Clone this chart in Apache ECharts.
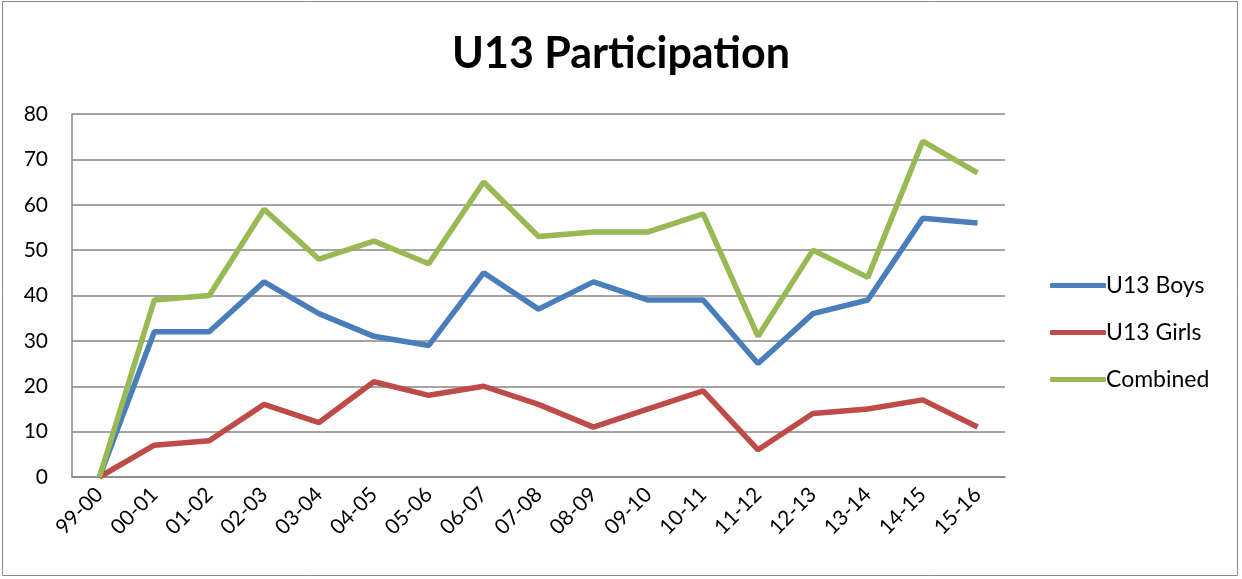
<!DOCTYPE html>
<html><head><meta charset="utf-8">
<script src="https://cdn.jsdelivr.net/npm/echarts@6/dist/echarts.min.js"></script>
<style>html,body{margin:0;padding:0;background:#fff}#c{width:1242px;height:579px}</style>
</head><body><div id="c"></div>
<script>
const categories = ['99-00','00-01','01-02','02-03','03-04','04-05','05-06','06-07','07-08','08-09','09-10','10-11','11-12','12-13','13-14','14-15','15-16'];
const boys = [0,32,32,43,36,31,29,45,37,43,39,39,25,36,39,57,56];
const girls = [0,7,8,16,12,21,18,20,16,11,15,19,6,14,15,17,11];
const combined = [0,39,40,59,48,52,47,65,53,54,54,58,31,50,44,74,67];
const yTicks = {min:0, max:80, interval:10};

const font = 'Lato, "Open Sans", sans-serif';
const chart = echarts.init(document.getElementById('c'), null, {renderer:'canvas'});
const mk = (name, data, color) => ({name, type:'line', data, symbol:'none', lineStyle:{color, width:5.5}, itemStyle:{color}, z:3});
chart.setOption({
  animation:false,
  backgroundColor:'#fff',
  graphic:[{type:'rect', shape:{x:2.5,y:1.5,width:1235,height:574}, style:{fill:'none', stroke:'#8c8c8c', lineWidth:1}}],
  title:{text:'U13 Participation', left:'center', top:28, textStyle:{fontFamily:font, fontWeight:'bold', fontSize:43, color:'#000'}},
  legend:{orient:'vertical', left:1045, top:269, itemGap:24, itemWidth:56, itemHeight:5, icon:'roundRect',
    textStyle:{fontFamily:font, fontSize:23, color:'#000', padding:[0,0,0,-5]},
    data:['U13 Boys','U13 Girls','Combined']},
  grid:{left:72, right:237, top:114, bottom:102},
  xAxis:{type:'category', data:categories, boundaryGap:true,
    axisLine:{lineStyle:{color:'#868686', width:1.5}}, axisTick:{show:false},
    axisLabel:{rotate:45, fontFamily:font, fontSize:21, color:'#000', margin:14, interval:0}},
  yAxis:{type:'value', min:yTicks.min, max:yTicks.max, interval:yTicks.interval,
    axisLine:{show:true, lineStyle:{color:'#868686', width:1.5}}, axisTick:{show:false},
    splitLine:{lineStyle:{color:'#868686', width:1.5}},
    axisLabel:{fontFamily:font, fontSize:21, color:'#000', margin:24}},
  series:[mk('U13 Boys', boys, '#4A7EBB'), mk('U13 Girls', girls, '#BE4B48'), mk('Combined', combined, '#98B954')]
});
</script></body></html>
